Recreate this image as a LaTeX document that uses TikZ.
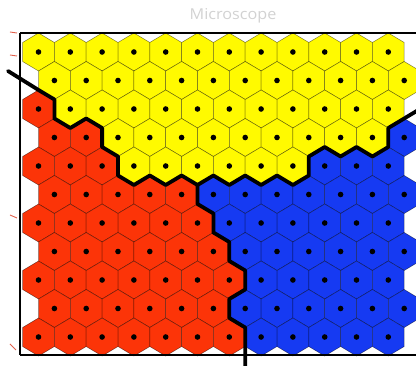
\documentclass[tikz,border=0pt]{standalone}
\usepackage{fontspec}
\setmainfont{Open Sans}
\definecolor{hexY}{RGB}{255,250,0}
\definecolor{hexR}{RGB}{252,52,8}
\definecolor{hexB}{RGB}{22,58,242}
\definecolor{titlegray}{RGB}{210,210,210}
\definecolor{tickred}{RGB}{225,95,75}
\tikzset{
  hexcell/.style={fill=#1, draw=black, draw opacity=0.5, line width=0.5pt},
  hexdot/.style={fill=black},
  bordline/.style={line width=3.8pt, line join=round, line cap=round},
  frameline/.style={line width=2.6pt},
  frameline thin/.style={line width=1.5pt},
  axtick/.style={tickred, line width=0.9pt},
}
\begin{document}
\begin{tikzpicture}[x=1pt,y=-1pt]
\useasboundingbox (0,0) rectangle (416,366);
\begin{scope}
\clip (0,0) rectangle (416,366);
\foreach \r/\nr/\ny in {0/0/12,1/0/12,2/1/11,3/2/9,4/3/6,5/5/0,6/6/0,7/6/0,8/7/0,9/6/0,10/7/0} {
  \pgfmathsetmacro{\cy}{52+28.5*\r}
  \pgfmathsetmacro{\xo}{ifthenelse(mod(\r,2)==0,38.5,54.4)}
  \pgfmathtruncatemacro{\nyend}{\nr+\ny}
  \foreach \i in {0,...,11} {
    \pgfmathsetmacro{\cx}{\xo+31.8*\i}
    \ifnum\i<\nr \def\hc{hexR}\else\ifnum\i<\nyend \def\hc{hexY}\else\def\hc{hexB}\fi\fi
    \draw[hexcell=\hc] (\cx,\cy-19) -- (\cx+15.9,\cy-9.5) -- (\cx+15.9,\cy+9.5)
      -- (\cx,\cy+19) -- (\cx-15.9,\cy+9.5) -- (\cx-15.9,\cy-9.5) -- cycle;
    \fill[hexdot] (\cx,\cy) circle (2.8pt);
  }
}
% frame
\draw[frameline] (20,33) -- (420,33);
\draw[frameline] (20,33) -- (20,355);
\draw[frameline thin] (20,355) -- (420,355);
% cluster boundaries
\draw[bordline] (8,71) -- (38.5,90) -- (54.4,99.5) -- (54.4,118.5) -- (70.3,128)
  -- (86.2,118.5) -- (102.1,128) -- (102.1,147) -- (118,156.5) -- (118,175.5)
  -- (133.9,185) -- (149.8,175.5) -- (165.7,185) -- (181.6,175.5) -- (197.5,185)
  -- (213.4,175.5) -- (229.3,185) -- (245.2,175.5) -- (261.1,185) -- (277,175.5)
  -- (292.9,185) -- (308.8,175.5) -- (308.8,156.5) -- (324.7,147) -- (340.6,156.5)
  -- (356.5,147) -- (372.4,156.5) -- (388.3,147) -- (388.3,128) -- (404.2,118.5)
  -- (424,106.6);
\draw[bordline] (197.5,185) -- (197.5,204) -- (213.4,213.5) -- (213.4,232.5)
  -- (229.3,242) -- (229.3,261) -- (245.2,270.5) -- (245.2,289.5) -- (229.3,299)
  -- (229.3,318) -- (245.2,327.5) -- (245.2,372);
\end{scope}
% axis ticks
\draw[axtick] (10,32) -- (17,33);
\draw[axtick] (10,55) -- (17,56);
\draw[axtick] (10,215) -- (17,218);
\draw[axtick] (10,344) -- (16,350);
% title
\node[text=titlegray, font=\fontsize{15}{15}\selectfont] (title) at (233,16) {\scalebox{1.08}[1]{Microscope}};
\end{tikzpicture}
\end{document}
